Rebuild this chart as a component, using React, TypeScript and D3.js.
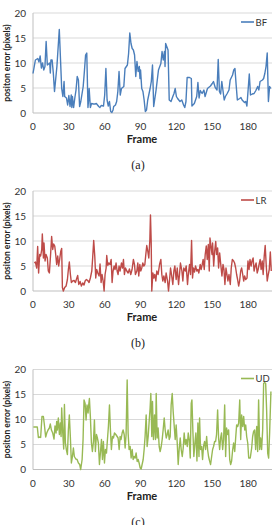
import React from 'react';
import * as d3 from 'd3';

// [frame, error] pairs
const bfPoints: [number, number][] = [
  [0, 7.9], [2, 10.6], [4, 10.9], [5, 10.2], [6, 11.4], [7, 9], [8, 10], [9, 8.6], [10, 9.3], [11, 14.3],
  [12, 9.6], [14, 10], [14.5, 8], [15, 10.6], [16, 10.6], [17, 8], [18, 4.3], [20, 9.3], [22, 16.7], [24, 4.9],
  [25, 3.3], [26, 6.3], [26.5, 3.3], [28, 3], [29, 1.6], [30, 3.5], [31, 1.3], [32, 3.6], [32.5, 1.1], [33, 3.3],
  [34, 1.1], [35, 3], [36, 4.6], [37, 7.3], [38, 6.6], [39, 1.3], [40, 2.3], [42, 5.3], [43, 8.3], [44, 11.6],
  [45, 12], [46, 1.1], [46.5, 2.6], [47, 4.9], [48, 1.1], [49, 1.9], [50.5, 1.8], [52, 1.8], [53, 1.9], [55, 1.3],
  [56, 1.1], [57, 1.5], [59, 1.4], [60, 3.6], [61, 8.9], [62, 2.6], [63, 1.4], [64, 2.3], [65, 0.3], [66, 0.1],
  [67, 0.6], [67.5, 1.3], [69, 1.6], [70, 2.3], [71, 4.3], [72, 8.3], [73, 3.6], [74, 4.9], [76, 5.3], [77, 8.9],
  [79, 9.6], [80, 11.9], [81, 16], [82, 13.9], [83, 12.9], [84, 12.6], [85, 11.6], [86, 7.3], [87, 10.3], [88, 8.3],
  [89, 9.3], [89.5, 6.9], [90, 8.6], [91, 4.9], [92, 4.3], [93, 2.6], [94, 0.3], [95, 0.6], [96, 2.6], [98, 4.9],
  [99, 6.3], [100, 9.6], [101, 1.3], [103, 4.6], [104, 6.6], [105, 8.6], [107, 9.9], [108, 12.3], [109, 10.6], [110, 12.3],
  [110.5, 9.3], [111, 13.9], [113, 12.6], [114, 2.6], [115.5, 2.3], [117, 3.3], [118, 3.9], [119, 4.9], [120, 3.3], [121, 2.9],
  [122, 2.6], [123, 2.3], [124.5, 2.6], [126, 1.6], [127, 1.1], [128, 2.3], [129, 7.1], [131, 7.1], [132.5, 6.9], [133, 1.4],
  [135, 1.9], [137, 3.3], [138, 6.1], [139, 3], [140, 4.5], [141.5, 3.9], [143, 4.6], [144, 3.3], [146, 4.9], [147, 5.1],
  [148.5, 5.4], [150, 5.9], [151, 6.3], [152.5, 5.1], [154, 4.6], [155, 10.7], [156, 4.3], [157, 3.8], [158, 6.3], [160, 2.6],
  [161, 3.3], [162.5, 3.9], [164, 4.6], [165, 6.6], [167, 7.6], [168, 8.6], [169, 8.9], [170, 5.6], [171, 2.6], [173, 2.9],
  [174, 3.1], [175, 2.6], [177, 2.1], [178, 2.3], [179, 1.4], [181, 7.8], [182, 3.6], [183.5, 3.8], [185, 3.9], [186.5, 4.5],
  [188, 5.3], [189, 4.6], [190, 6.3], [192, 6.6], [193, 6.9], [194, 7.9], [195, 9.3], [196, 12], [197, 2.3], [198, 5.3],
  [199, 4.9],
];

const lrPoints: [number, number][] = [
  [1.1, 5.6], [2, 5.8], [3.1, 4.6], [3.9, 8.9], [4.7, 3.6], [5.6, 7.3], [6.4, 7], [7.3, 8.3], [7.8, 11.4], [8.7, 6.6],
  [9.2, 9.6], [10.1, 6], [10.9, 7.3], [12, 6.6], [12.8, 4], [13.7, 3.6], [14.8, 7.6], [15.6, 10.9], [16.5, 8.3], [17.3, 9.4],
  [18.2, 9], [19, 7.3], [19.8, 5.3], [20.7, 7], [21.5, 5], [22.3, 6.3], [23.2, 7.9], [24, 8.5], [24.6, 0.7], [25.4, 0],
  [26.5, 0.7], [27.7, 1], [28.8, 2.3], [29.6, 4.3], [30.4, 5.8], [31.3, 3.3], [32.1, 1.7], [33.2, 2], [34.4, 2.1], [35.5, 1.7],
  [36.3, 2.3], [37.4, 3.1], [38.3, 1.3], [39.4, 1.9], [40.5, 1], [41.6, 1.6], [42.7, 1.2], [43.6, 2], [44.7, 2.3], [45.8, 2.1],
  [46.9, 1.7], [48, 2.6], [49.2, 4], [50, 6.9], [50.8, 10.1], [51.7, 6.9], [52.5, 2.6], [53.3, 4.3], [54.2, 3.6], [55.3, 3],
  [56.1, 5.4], [57, 1.7], [57.8, 3.3], [58.7, 2], [59.5, 0], [60.3, 3.3], [61.2, 4.6], [61.7, 7.1], [62.6, 5.1], [63.4, 5.6],
  [64.5, 5.3], [65.4, 6.3], [66.2, 1.7], [67, 4], [67.9, 5], [68.7, 4.3], [69.5, 5.6], [70.4, 4], [71.2, 3.3], [72, 5],
  [72.9, 4], [74, 5.6], [74.9, 4.6], [75.7, 6.3], [76.5, 3.3], [77.4, 4.6], [78.5, 4], [79.6, 3.6], [80.7, 4.4], [81.8, 3.3],
  [82.9, 4.3], [84, 6.3], [84.9, 5.3], [85.7, 3.3], [86.9, 4], [87.7, 5.6], [88.5, 3], [89.4, 5.3], [90.2, 4], [91, 4.6],
  [91.9, 5.6], [92.7, 5], [93.6, 5.3], [94.4, 7.3], [95.2, 9.1], [96.1, 7.9], [96.9, 6.6], [97.8, 10.3], [98.3, 15.2], [98.9, 9.9],
  [99.4, 0], [100.3, 3.6], [101.1, 2.6], [101.9, 3.3], [102.8, 2], [103.6, 4], [104.7, 3.3], [105.9, 5.3], [107, 6.3], [107.8, 3.3],
  [108.6, 2], [109.5, 3], [110.6, 1.7], [111.4, 3.6], [112.6, 2], [113.4, 0], [114.2, 2], [115.1, 4.6], [115.9, 3.3], [117, 1.3],
  [117.9, 4], [118.7, 5], [119.8, 2.3], [120.7, 4.6], [121.8, 1.3], [122.6, 3.3], [123.4, 5.6], [124.6, 4], [125.4, 2], [126.2, 4.6],
  [127.4, 4], [128.2, 5], [129.3, 1.3], [130.1, 3.6], [131, 5.3], [131.8, 3.3], [132.7, 10.1], [133.5, 2.6], [134.3, 4.6], [135.2, 3.8],
  [136, 5], [137.1, 4], [138, 4.3], [138.8, 3.6], [139.9, 5.3], [140.7, 4.3], [141.6, 5.3], [142.4, 6.3], [143.3, 4.3], [144.1, 7.3],
  [145, 9], [145.8, 6.3], [146.7, 9.3], [147.5, 4], [148.1, 10.6], [148.9, 9], [149.8, 7.3], [150.3, 9.6], [151.2, 5], [152, 7.9],
  [152.9, 9.9], [153.6, 7.3], [154.5, 8.6], [155.3, 4.6], [156.2, 7.6], [157, 5.6], [158.1, 3], [159, 5.3], [159.8, 4.3], [160.6, 1.3],
  [161.5, 4.6], [162.3, 3.3], [163.1, 2], [164, 3.3], [165.1, 1.3], [165.9, 4.6], [166.8, 6.3], [167.9, 6], [168.7, 5.6], [169.6, 4.6],
  [170.4, 3.3], [171.2, 2.3], [172.1, 1], [172.9, 2], [173.8, 4], [174.6, 4.6], [175.5, 3.3], [176.3, 2], [177.1, 3], [178, 2.3],
  [179.1, 2.6], [179.9, 6], [180.8, 4.3], [181.6, 6.3], [182.5, 5], [183.3, 6], [184.2, 6.6], [185, 4], [185.9, 5], [186.7, 5.6],
  [187.6, 3.6], [188.4, 4.3], [189.2, 5.3], [190.1, 6.3], [190.9, 4.3], [191.8, 6], [192.6, 3.3], [193.5, 7], [194.3, 9.1], [195.2, 5],
  [196, 2], [196.9, 3.3], [197.7, 4.3], [198.6, 7.8], [199.4, 4],
];

const udPoints: [number, number][] = [
  [0.3, 8.5], [2.5, 8.5], [3.6, 8.5], [4.5, 6.4], [5.6, 6.5], [6.4, 6.4], [7.5, 10.6], [8.7, 10.6], [9.5, 9], [10.6, 6.5],
  [11.5, 7.3], [12.6, 7.9], [13.7, 8.3], [14.5, 9.1], [15.4, 7.9], [16.5, 7.3], [17.6, 6.1], [18.4, 8.7], [19.3, 7.3], [19.8, 9.6],
  [20.4, 7.9], [21.2, 10.3], [22.1, 7], [22.9, 9.3], [23.5, 6.6], [24, 12.3], [24.9, 7.3], [25.7, 4.1], [26.3, 13], [27.1, 5.3],
  [27.9, 4], [28.8, 3], [29.6, 7.9], [30.4, 10.9], [31.3, 6.3], [32.1, 1.3], [33, 2.6], [33.8, 4.3], [34.6, 2.6], [35.8, 2.1],
  [36.9, 2], [38, 1.3], [39.1, 1], [39.9, 0], [41.1, 2], [41.9, 6], [42.7, 13.9], [43.6, 13.2], [44.4, 9.9], [45.2, 12.9],
  [46.1, 11.3], [46.6, 12.9], [47.2, 14.2], [48, 10.6], [48.9, 5.3], [49.7, 3.6], [50.6, 5.6], [51.4, 9.9], [52.2, 3.6], [53.1, 7],
  [53.9, 6.3], [54.7, 5.3], [55.6, 1], [56.4, 3.3], [57.3, 6], [58.1, 2], [58.9, 5.6], [59.8, 1.3], [60.6, 4], [61.5, 3.3],
  [62.3, 6], [63.1, 8.6], [64, 12.9], [64.8, 7.9], [65.6, 4], [66.5, 6.6], [67.3, 6.3], [68.2, 7.3], [69.3, 7], [70.4, 6.6],
  [71.2, 6.3], [72.1, 4], [72.9, 6.6], [73.7, 6], [74.6, 7.3], [75.4, 7.9], [76.3, 7], [77.1, 4.3], [77.9, 7], [78.8, 17.9],
  [79.6, 7.3], [80.4, 4], [81.3, 4.6], [82.1, 2.3], [83, 4], [83.8, 2], [84.6, 2.6], [85.5, 2.3], [86.3, 3.3], [87.2, 1.6],
  [88, 2], [88.8, 1.3], [89.7, 0.3], [90.5, 0.1], [91.3, 1], [92.2, 2], [93, 4], [93.8, 6.6], [94.7, 10.9], [95.5, 4.6],
  [96.4, 6.6], [97.2, 9.6], [98, 12.3], [98.6, 15.2], [99.4, 6.6], [100, 13.6], [100.8, 6], [101.7, 10.9], [102.5, 6], [103.1, 15.2],
  [103.9, 6.3], [104.7, 8.3], [105.6, 4.6], [106.4, 3.6], [107.3, 4.6], [108.1, 6], [108.9, 7.9], [109.8, 10.3], [110.6, 7.9], [111.5, 6.3],
  [112.3, 7], [113.1, 7.9], [114, 6], [114.8, 6.6], [115.6, 12.9], [116.5, 15.2], [117.3, 11.6], [118.2, 8.6], [119, 6], [119.8, 8.9],
  [120.7, 5.3], [121.5, 1], [122.3, 4], [123.2, 6.3], [124, 4], [124.9, 2.6], [125.7, 4.3], [126.5, 7.3], [127.4, 5], [128.2, 6],
  [129.1, 4.6], [129.9, 7.3], [130.7, 6], [131.6, 2.3], [132.4, 13.2], [133, 13.9], [133.8, 7.6], [134.6, 2.6], [135.5, 5.3], [136.3, 7.3],
  [137.2, 1.7], [138, 9.3], [138.9, 2.6], [139.4, 10.3], [140.2, 4], [141.1, 4.6], [141.9, 2], [142.7, 4.6], [143.6, 5.6], [144.4, 4],
  [145.3, 6.6], [146.1, 4], [146.9, 2.6], [147.8, 1.7], [148.6, 1], [149.5, 2.6], [150.3, 4], [151.1, 4.6], [152, 5.6], [152.8, 5.6],
  [153.6, 7], [154.5, 11.9], [155.3, 6.3], [156.2, 4], [157, 6.3], [157.8, 7.3], [158.7, 4], [159.5, 6], [160.4, 12.9], [161.2, 2.6],
  [162, 8.3], [162.9, 7], [163.7, 7.9], [164.6, 2], [165.4, 1], [166.2, 1.7], [167.1, 4], [167.9, 5.3], [168.8, 3.6], [169.6, 6.3],
  [170.4, 8.9], [171.3, 8.6], [172.1, 9.3], [173, 13.9], [173.8, 6], [174.6, 10.9], [175.5, 8.6], [176.3, 10.6], [177.2, 7.9], [178, 8.9],
  [178.8, 6.6], [179.7, 5.3], [180.5, 2.3], [181.8, 2.3], [183, 4.3], [183.8, 6.6], [184.6, 7.6], [185.5, 7.9], [186.3, 4], [187.2, 8.6],
  [188, 3.6], [188.8, 13.9], [189.7, 4], [190.5, 6.3], [191.3, 4], [192.2, 7.9], [193, 17.2], [193.8, 17.4], [194.7, 17.2], [195.5, 11.9],
  [196.4, 3.3], [197.2, 2.3], [198, 7.3], [199.1, 15.6],
];

const xTicks = [0, 30, 60, 90, 120, 150, 180];
const yTicks = [0, 5, 10, 15, 20];

const panels = [
  { name: 'BF', caption: '(a)', color: '#4a7ebb', points: bfPoints, top: 13 },
  { name: 'LR', caption: '(b)', color: '#be4b48', points: lrPoints, top: 191 },
  { name: 'UD', caption: '(c)', color: '#98b954', points: udPoints, top: 369.5 },
];

const font = 'Lato, "Open Sans", sans-serif';

function Panel({ name, caption, color, points, top }) {
  const x = d3.scaleLinear().domain([0, 200]).range([33, 272]);
  const y = d3.scaleLinear().domain([0, 20]).range([top + 100, top]);
  const line = d3
    .line<[number, number]>()
    .x(d => x(d[0]))
    .y(d => y(d[1]));

  return (
    <g>
      {yTicks.map(t => (
        <line key={t} x1={x(0)} x2={x(200)} y1={y(t)} y2={y(t)} stroke={t === 0 ? '#bfbfbf' : '#d9d9d9'} strokeWidth={1} />
      ))}
      <line x1={x(0)} x2={x(0)} y1={y(20)} y2={y(0)} stroke="#bfbfbf" />
      {yTicks.map(t => (
        <text key={t} x={26} y={y(t) + 3.5} textAnchor="end" fontSize={10} fill="#333" fontFamily={font}>
          {t}
        </text>
      ))}
      {xTicks.map(t => (
        <text key={t} x={x(t)} y={y(0) + 17} textAnchor="middle" fontSize={10} fill="#333" fontFamily={font}>
          {t}
        </text>
      ))}
      <path d={line(points) ?? ''} fill="none" stroke={color} strokeWidth={1.4} strokeLinejoin="round" />
      <line x1={241} x2={254} y1={top + 9} y2={top + 9} stroke={color} strokeWidth={1.6} />
      <text x={255.5} y={top + 12.5} fontSize={9.5} fill="#333" fontFamily={font}>
        {name}
      </text>
      <text
        transform={`translate(9.5,${y(10)}) rotate(-90)`}
        textAnchor="middle"
        fontSize={8.5}
        fontWeight="bold"
        fill="#222"
        fontFamily={font}
      >
        positon error (pixels)
      </text>
      <text x={142} y={y(0) + 30} textAnchor="middle" fontSize={11} fontWeight="bold" fill="#222" fontFamily={font}>
        Frame
      </text>
      <text x={138} y={y(0) + 56} textAnchor="middle" fontSize={12} fill="#222" fontFamily="'Liberation Serif', serif">
        {caption}
      </text>
    </g>
  );
}

export default function App() {
  return (
    <svg width={277} height={525} style={{ position: 'absolute', left: 0, top: 0, background: '#fff' }}>
      {panels.map(p => (
        <Panel key={p.name} {...p} />
      ))}
    </svg>
  );
}
